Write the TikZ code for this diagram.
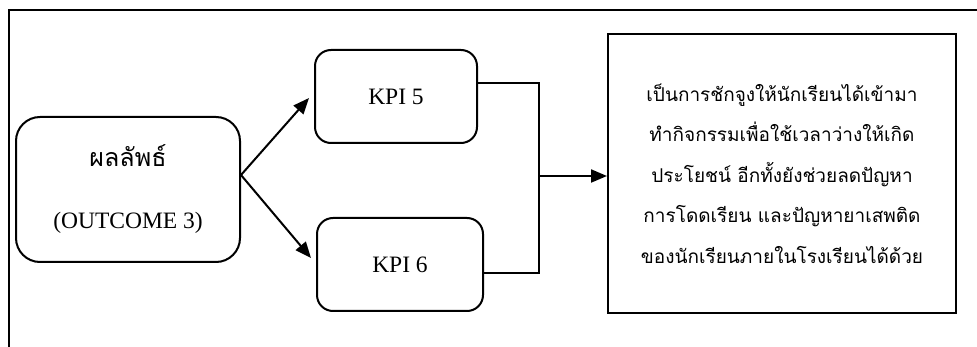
\documentclass[tikz,border=0pt]{standalone}
\usepackage{fontspec}
\setmainfont{Liberation Serif}
\newfontfamily\thaifont[Script=Thai]{Loma}
\usetikzlibrary{arrows.meta}
\begin{document}
\begin{tikzpicture}[x=1pt,y=-1pt,
  line width=2pt,
  roundbox/.style={draw, rounded corners=#1, inner sep=0pt, align=center},
  textbox/.style={draw, inner sep=0pt, align=center},
  link/.style={-{Triangle[length=16pt,width=13pt]}}
]
\useasboundingbox (0,0) rectangle (977,347);
% open frame: top and left edges only
\coordinate (fbl) at (8.5,347);
\coordinate (ftl) at (8.5,10);
\coordinate (ftr) at (977,10);
\draw (fbl) -- (ftl) -- (ftr);

% boxes
\node[roundbox=24pt, minimum width=224pt, minimum height=145pt, font=\fontsize{23.5}{50}\selectfont]
  (out) at (128,189.5) {{\thaifont\fontsize{25}{30}\selectfont ผลลัพธ์}\\[12pt](OUTCOME 3)};
\node[roundbox=16pt, minimum width=162pt, minimum height=93pt, font=\fontsize{23.5}{28}\selectfont]
  (k5) at (396,96.5) {KPI 5};
\node[roundbox=16pt, minimum width=166pt, minimum height=93pt, font=\fontsize{23.5}{28}\selectfont]
  (k6) at (400,264.5) {KPI 6};
\node[textbox, minimum width=348pt, minimum height=279pt, font=\thaifont\fontsize{19}{40.5}\selectfont]
  (res) at (782,173.5) {เป็นการชักจูงให้นักเรียนได้เข้ามา\\ทำกิจกรรมเพื่อใช้เวลาว่างให้เกิด\\ประโยชน์ อีกทั้งยังช่วยลดปัญหา\\การโดดเรียน และปัญหายาเสพติด\\ของนักเรียนภายในโรงเรียนได้ด้วย};

% branching arrows
\coordinate (split) at (241,175);
\draw[link] (split) -- ([xshift=-5pt,yshift=-1.5pt]k5.west);
\draw[link] (split) -- ([xshift=-5pt,yshift=6.5pt]k6.west);

% merging connector
\coordinate (j1) at (539,83);
\coordinate (j2) at (539,273);
\coordinate (jm) at (539,176);
\draw (k5.east |- j1) -- (j1) -- (j2) -- (k6.east |- j2);
\draw[link] (jm) -- (res.west |- jm);
\end{tikzpicture}
\end{document}
